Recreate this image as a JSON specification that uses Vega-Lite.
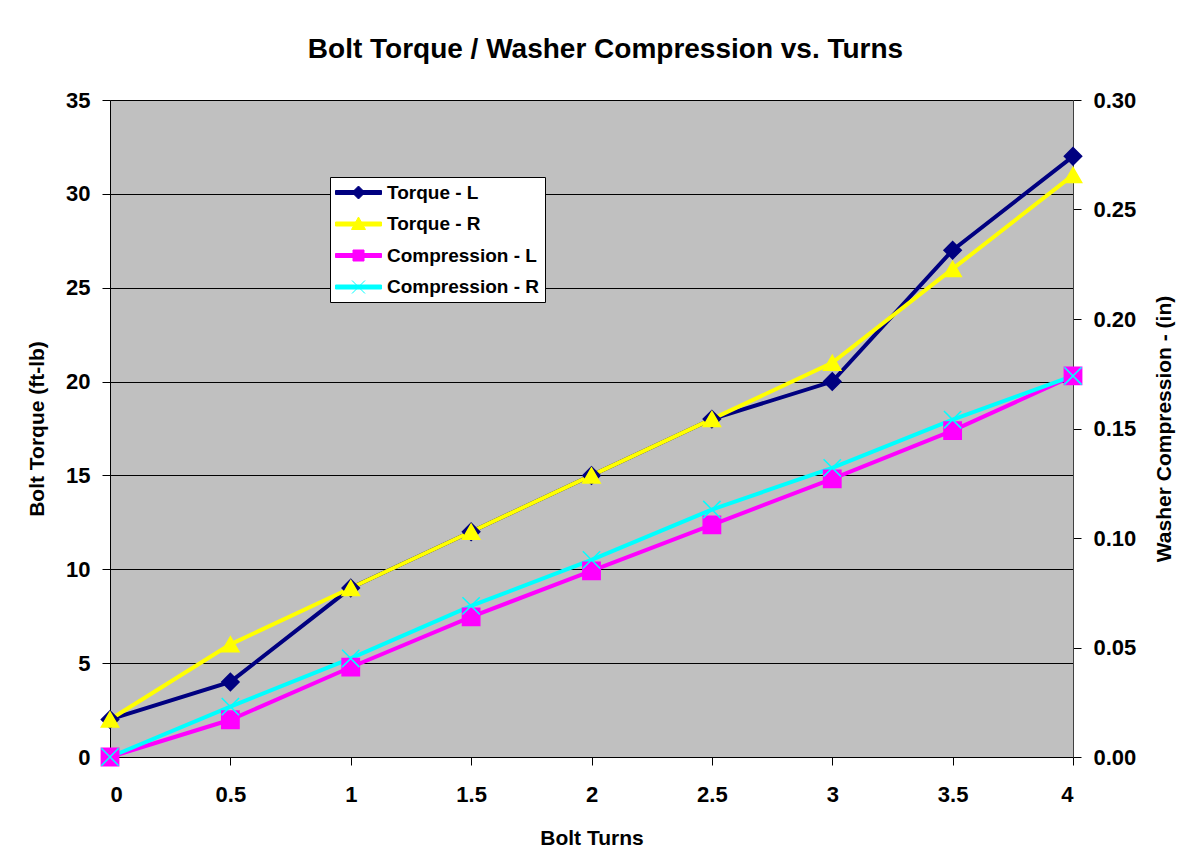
{
  "$schema": "https://vega.github.io/schema/vega-lite/v6.json",
  "width": 963,
  "height": 657,
  "autosize": {"type": "none"},
  "padding": {"left": 110, "top": 100, "right": 117, "bottom": 103},
  "background": "white",
  "config": {
    "view": {"fill": "#C0C0C0", "stroke": "#808080", "strokeWidth": 1},
    "font": "Liberation Sans",
    "axis": {
      "labelFont": "Liberation Sans", "labelFontWeight": "bold", "labelFontSize": 22, "labelColor": "black",
      "titleFont": "Liberation Sans", "titleFontWeight": "bold", "titleFontSize": 21, "titleColor": "black",
      "domainColor": "black", "tickColor": "black", "tickSize": 8, "domainWidth": 1, "tickWidth": 1
    }
  },
  "title": {
    "text": "Bolt Torque / Washer Compression vs. Turns",
    "font": "Liberation Sans", "fontSize": 28, "fontWeight": "bold", "color": "black",
    "frame": "group", "anchor": "middle", "dx": 14, "offset": 25
  },
  "data": {
    "values": [
      {"turns": 0, "value": 2, "series": "Torque - L", "marker": "diamond", "kind": "torque"},
      {"turns": 0.5, "value": 4, "series": "Torque - L", "marker": "diamond", "kind": "torque"},
      {"turns": 1, "value": 9, "series": "Torque - L", "marker": "diamond", "kind": "torque"},
      {"turns": 1.5, "value": 12, "series": "Torque - L", "marker": "diamond", "kind": "torque"},
      {"turns": 2, "value": 15, "series": "Torque - L", "marker": "diamond", "kind": "torque"},
      {"turns": 2.5, "value": 18, "series": "Torque - L", "marker": "diamond", "kind": "torque"},
      {"turns": 3, "value": 20, "series": "Torque - L", "marker": "diamond", "kind": "torque"},
      {"turns": 3.5, "value": 27, "series": "Torque - L", "marker": "diamond", "kind": "torque"},
      {"turns": 4, "value": 32, "series": "Torque - L", "marker": "diamond", "kind": "torque"},
      {"turns": 0, "value": 2, "series": "Torque - R", "marker": "triangle", "kind": "torque"},
      {"turns": 0.5, "value": 6, "series": "Torque - R", "marker": "triangle", "kind": "torque"},
      {"turns": 1, "value": 9, "series": "Torque - R", "marker": "triangle", "kind": "torque"},
      {"turns": 1.5, "value": 12, "series": "Torque - R", "marker": "triangle", "kind": "torque"},
      {"turns": 2, "value": 15, "series": "Torque - R", "marker": "triangle", "kind": "torque"},
      {"turns": 2.5, "value": 18, "series": "Torque - R", "marker": "triangle", "kind": "torque"},
      {"turns": 3, "value": 21, "series": "Torque - R", "marker": "triangle", "kind": "torque"},
      {"turns": 3.5, "value": 26, "series": "Torque - R", "marker": "triangle", "kind": "torque"},
      {"turns": 4, "value": 31, "series": "Torque - R", "marker": "triangle", "kind": "torque"},
      {"turns": 0, "value": 0, "series": "Compression - L", "marker": "square", "kind": "compression"},
      {"turns": 0.5, "value": 0.017, "series": "Compression - L", "marker": "square", "kind": "compression"},
      {"turns": 1, "value": 0.041, "series": "Compression - L", "marker": "square", "kind": "compression"},
      {"turns": 1.5, "value": 0.064, "series": "Compression - L", "marker": "square", "kind": "compression"},
      {"turns": 2, "value": 0.085, "series": "Compression - L", "marker": "square", "kind": "compression"},
      {"turns": 2.5, "value": 0.106, "series": "Compression - L", "marker": "square", "kind": "compression"},
      {"turns": 3, "value": 0.127, "series": "Compression - L", "marker": "square", "kind": "compression"},
      {"turns": 3.5, "value": 0.149, "series": "Compression - L", "marker": "square", "kind": "compression"},
      {"turns": 4, "value": 0.174, "series": "Compression - L", "marker": "square", "kind": "compression"},
      {"turns": 0, "value": 0, "series": "Compression - R", "marker": "x", "kind": "compression"},
      {"turns": 0.5, "value": 0.023, "series": "Compression - R", "marker": "x", "kind": "compression"},
      {"turns": 1, "value": 0.045, "series": "Compression - R", "marker": "x", "kind": "compression"},
      {"turns": 1.5, "value": 0.069, "series": "Compression - R", "marker": "x", "kind": "compression"},
      {"turns": 2, "value": 0.090, "series": "Compression - R", "marker": "x", "kind": "compression"},
      {"turns": 2.5, "value": 0.113, "series": "Compression - R", "marker": "x", "kind": "compression"},
      {"turns": 3, "value": 0.132, "series": "Compression - R", "marker": "x", "kind": "compression"},
      {"turns": 3.5, "value": 0.154, "series": "Compression - R", "marker": "x", "kind": "compression"},
      {"turns": 4, "value": 0.174, "series": "Compression - R", "marker": "x", "kind": "compression"}
    ]
  },
  "encoding": {
    "x": {
      "field": "turns", "type": "quantitative",
      "scale": {"domain": [0, 4], "nice": false, "zero": false},
      "axis": {"values": [0, 0.5, 1, 1.5, 2, 2.5, 3, 3.5, 4], "format": "~g", "grid": false, "title": "Bolt Turns", "labelPadding": 19, "titlePadding": 22}
    }
  },
  "layer": [
    {
      "layer": [
        {
          "transform": [{"filter": "datum.kind === 'torque'"}],
          "mark": {"type": "line", "strokeWidth": 4},
          "encoding": {
            "y": {"field": "value", "type": "quantitative"},
            "color": {
              "field": "series", "type": "nominal",
              "scale": {"domain": ["Torque - L", "Torque - R", "Compression - L", "Compression - R"], "range": ["#000080", "#FFFF00", "#FF00FF", "#00FFFF"]},
              "legend": {
                "title": null, "orient": "none", "legendX": 220, "legendY": 77,
                "fillColor": "white", "strokeColor": "black", "padding": 5,
                "labelFont": "Liberation Sans", "labelFontWeight": "bold", "labelFontSize": 19, "labelColor": "black",
                "symbolSize": 400, "labelOffset": 31, "rowPadding": 10.5, "labelLimit": 300,
                "encode": {
                  "symbols": {
                    "update": {
                      "shape": {"signal": "datum.value === 'Torque - L' ? 'M-1,-0.2H3.6V0.2H-1Z M1.3,-0.65L1.95,0L1.3,0.65L0.65,0Z' : datum.value === 'Torque - R' ? 'M-1,-0.2H3.6V0.2H-1Z M1.3,-0.7L2,0.55L0.6,0.55Z' : datum.value === 'Compression - L' ? 'M-1,-0.2H3.6V0.2H-1Z M0.75,-0.55H1.85V0.55H0.75Z' : 'M-1,-0.2H3.6V0.2H-1Z M0.65,-0.65L1.95,0.65M0.65,0.65L1.95,-0.65'"},
                      "fill": {"signal": "scale('color', datum.value)"},
                      "stroke": {"signal": "scale('color', datum.value)"},
                      "strokeWidth": {"value": 1},
                      "opacity": {"value": 1}
                    }
                  }
                }
              }
            }
          }
        },
        {
          "transform": [{"filter": "datum.kind === 'torque'"}],
          "mark": {"type": "point", "filled": true, "size": 300, "opacity": 1, "strokeWidth": 1.5},
          "encoding": {
            "y": {"field": "value", "type": "quantitative"},
            "color": {"field": "series", "type": "nominal", "legend": null},
            "stroke": {"field": "series", "type": "nominal", "legend": null, "scale": {"domain": ["Torque - L", "Torque - R", "Compression - L", "Compression - R"], "range": ["#000080", "#FFFF00", "#FF00FF", "#00FFFF"]}},
            "shape": {"field": "marker", "type": "nominal", "legend": null, "scale": {"domain": ["diamond", "triangle", "square", "x"], "range": ["diamond", "triangle-up", "square", "M-1,-1L1,1M-1,1L1,-1"]}}
          }
        }
      ],
      "encoding": {
        "y": {
          "field": "value", "type": "quantitative",
          "scale": {"domain": [0, 35], "nice": false},
          "axis": {"orient": "left", "values": [0, 5, 10, 15, 20, 25, 30, 35], "grid": true, "gridColor": "black", "gridWidth": 1, "gridOpacity": 1, "title": "Bolt Torque (ft-lb)", "labelPadding": 12, "titlePadding": 18}
        }
      }
    },
    {
      "layer": [
        {
          "transform": [{"filter": "datum.kind === 'compression'"}],
          "mark": {"type": "line", "strokeWidth": 4},
          "encoding": {
            "color": {"field": "series", "type": "nominal", "legend": null}
          }
        },
        {
          "transform": [{"filter": "datum.kind === 'compression'"}],
          "mark": {"type": "point", "filled": true, "size": 300, "opacity": 1, "strokeWidth": 1.5},
          "encoding": {
            "color": {"field": "series", "type": "nominal", "legend": null},
            "stroke": {"field": "series", "type": "nominal", "legend": null},
            "shape": {"field": "marker", "type": "nominal", "legend": null}
          }
        }
      ],
      "encoding": {
        "y": {
          "field": "value", "type": "quantitative",
          "scale": {"domain": [0, 0.3], "nice": false},
          "axis": {"orient": "right", "values": [0, 0.05, 0.1, 0.15, 0.2, 0.25, 0.3], "format": ".2f", "grid": false, "title": "Washer Compression - (in)", "titleAngle": -90, "labelPadding": 12, "titlePadding": 39, "domainColor": "#404040"}
        }
      }
    }
  ],
  "resolve": {"scale": {"y": "independent"}}
}
